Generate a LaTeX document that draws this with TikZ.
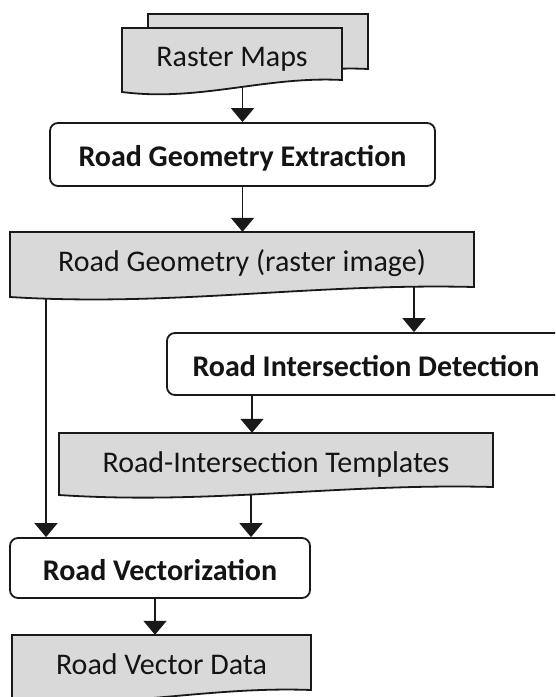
\documentclass[tikz,border=0pt]{standalone}
\usepackage{fontspec}
\setmainfont{Carlito}
\usetikzlibrary{arrows.meta}
\pgfdeclarelayer{background}
\pgfsetlayers{background,main}

% document shape with a wavy bottom edge: L R T yR yL
\newcommand\docpath[5]{%
  \pgfmathsetmacro\dcW{#2-#1}%
  \pgfmathsetmacro\dcXa{#2-0.35*\dcW}%
  \pgfmathsetmacro\dcXb{#1+0.35*\dcW}%
  \pgfmathsetmacro\dcYa{#4-4}%
  \pgfmathsetmacro\dcYb{#5+10}%
  \draw[docfill] (#1,#3) -- (#2,#3) -- (#2,#4)
    .. controls (\dcXa,\dcYa) and (\dcXb,\dcYb) .. (#1,#5) -- cycle;%
}

\tikzset{
  linecol/.style={draw=black!90, line width=1.8pt},
  arr/.style={linecol, -{Triangle[width=23pt,length=14pt]}},
  docfill/.style={linecol, fill=black!15},
  labeltext/.style={inner sep=0pt, text height=26pt, text depth=2pt,
    font=\fontsize{30}{36}\selectfont, text=black!92},
  doclabel/.style={labeltext},
  procbox/.style={labeltext, linecol, fill=white, rounded corners=8pt,
    font=\fontsize{30}{36}\selectfont\bfseries},
}

\begin{document}
\begin{tikzpicture}[x=1pt,y=-1pt]
\useasboundingbox (0,0) rectangle (555,697);
\clip (0,0) rectangle (555,697);

% input maps (stacked documents)
\docpath{148}{368}{14}{69}{80}
\docpath{122}{342}{28}{80}{92}
\node[doclabel, minimum width=220pt, minimum height=52pt] (raster) at (232,54) {Raster Maps};

% extraction step
\node[procbox, minimum width=385pt, minimum height=63pt] (extract) at (242.5,154.5) {Road Geometry Extraction};

% raster road geometry
\docpath{10}{474}{232}{287}{297}
\node[doclabel, minimum width=464pt, minimum height=55pt] (geom) at (242,259.5) {Road Geometry (raster image)};

% intersection detection
\node[procbox, minimum width=398pt, minimum height=62pt] (detect) at (366,364) {Road Intersection Detection};

% templates
\docpath{59}{493}{433}{487}{495}
\node[doclabel, minimum width=434pt, minimum height=54pt] (templ) at (276,460) {Road-Intersection Templates};

% vectorization step
\node[procbox, minimum width=300pt, minimum height=60pt] (vect) at (160,568) {Road Vectorization};

% output vector data
\docpath{12}{311}{635}{690}{700}
\node[doclabel, minimum width=299pt, minimum height=55pt] (vdata) at (161.5,662.5) {Road Vector Data};

% branch points on the shapes
\coordinate (splitL) at (46,270);
\coordinate (splitR) at (414,270);
\coordinate (detOut) at (252,380);
\coordinate (tplOut) at (251,470);
\coordinate (vecOut) at (155,580);

\begin{pgfonlayer}{background}
  \draw[arr] (raster.center -| extract.north) -- (extract.north);
  \draw[arr] (extract.south) -- (extract.south |- geom.north);
  \draw[arr] (splitR) -- (splitR |- detect.north);
  \draw[arr] (splitL) -- (splitL |- vect.north);
  \draw[arr] (detOut) -- (detOut |- templ.north);
  \draw[arr] (tplOut) -- (tplOut |- vect.north);
  \draw[arr] (vecOut) -- (vecOut |- vdata.north);
\end{pgfonlayer}
\end{tikzpicture}
\end{document}
